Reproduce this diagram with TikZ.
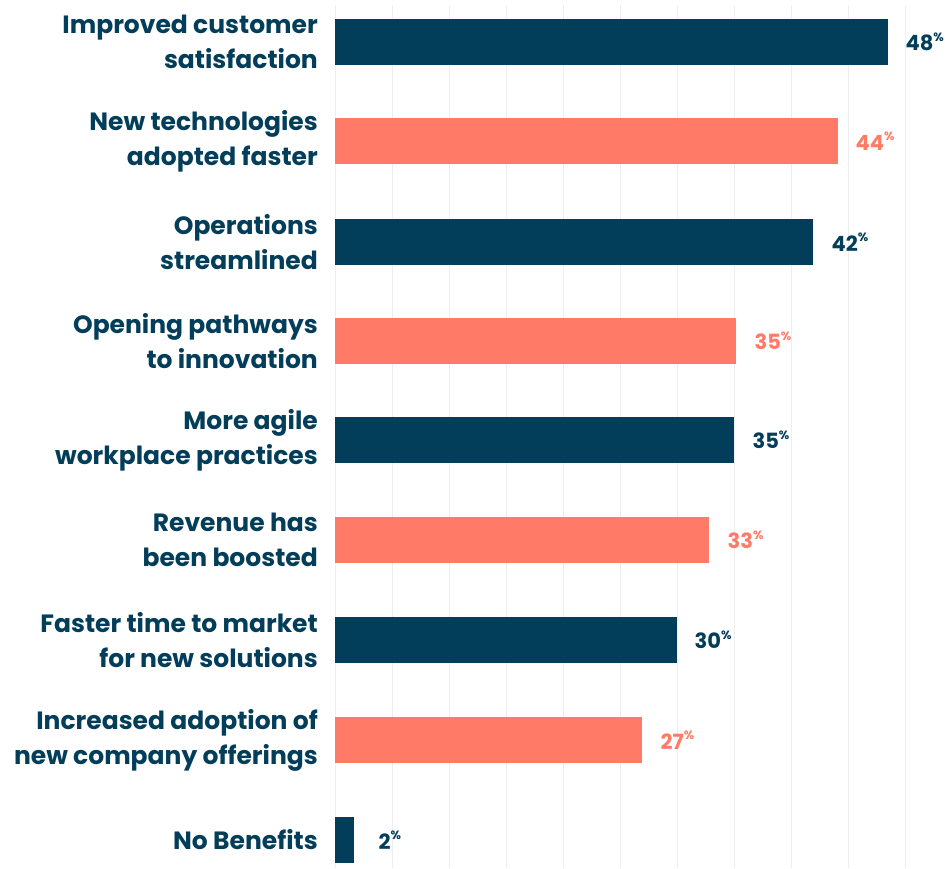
\documentclass[tikz,border=0pt]{standalone}
\usepackage{fontspec}
\setmainfont{Poppins}
\usepackage{xcolor}
\usepackage{tikz}
\usetikzlibrary{positioning}
\definecolor{navy}{HTML}{023D5A}
\definecolor{salmon}{HTML}{FF7B67}
\definecolor{gridgray}{HTML}{EEEEEE}
\tikzstyle{bar} = [rectangle, draw=none, inner sep=0, minimum height=46pt, anchor=west]
\tikzstyle{lab} = [draw=none, inner sep=0, align=right, text=navy, font=\fontsize{25}{35}\selectfont\bfseries]
\tikzstyle{pct} = [draw=none, inner sep=0, font=\fontsize{21}{24}\selectfont\bfseries]
\newcommand{\pcval}[1]{#1\raisebox{0.45em}{\fontsize{12}{12}\selectfont\%}}

\begin{document}
\begin{tikzpicture}[x=1pt, y=-1pt]
\useasboundingbox (0,0) rectangle (945,868);
% grid
\foreach \i in {0,...,10}
  \draw [gridgray, line width=1pt] (335+57*\i, 5) -- (335+57*\i, 868);
% bars
\node [bar, fill=navy, minimum width=553pt] (b1) at (335, 42) {};
\node [bar, fill=salmon, minimum width=503pt] (b2) at (335, 141) {};
\node [bar, fill=navy, minimum width=478pt] (b3) at (335, 242) {};
\node [bar, fill=salmon, minimum width=401pt] (b4) at (335, 341) {};
\node [bar, fill=navy, minimum width=399pt] (b5) at (335, 440) {};
\node [bar, fill=salmon, minimum width=374pt] (b6) at (335, 540) {};
\node [bar, fill=navy, minimum width=342pt] (b7) at (335, 640) {};
\node [bar, fill=salmon, minimum width=307pt] (b8) at (335, 740) {};
\node [bar, fill=navy, minimum width=19pt] (b9) at (335, 840) {};
% labels
\node [lab, left=17pt of b1] (l1) {Improved customer\\satisfaction};
\node [lab, left=17pt of b2] (l2) {New technologies\\adopted faster};
\node [lab, left=17pt of b3] (l3) {Operations\\streamlined};
\node [lab, left=17pt of b4] (l4) {Opening pathways\\to innovation};
\node [lab, left=17pt of b5] (l5) {More agile\\workplace practices};
\node [lab, left=17pt of b6] (l6) {Revenue has\\been boosted};
\node [lab, left=17pt of b7] (l7) {Faster time to market\\for new solutions};
\node [lab, left=17pt of b8] (l8) {Increased adoption of\\new company offerings};
\node [lab, left=17pt of b9] (l9) {No Benefits};
% values
\node [pct, text=navy, right=17pt of b1] (p1) {\pcval{48}};
\node [pct, text=salmon, right=17pt of b2] (p2) {\pcval{44}};
\node [pct, text=navy, right=18pt of b3] (p3) {\pcval{42}};
\node [pct, text=salmon, right=18pt of b4] (p4) {\pcval{35}};
\node [pct, text=navy, right=18pt of b5] (p5) {\pcval{35}};
\node [pct, text=salmon, right=18pt of b6] (p6) {\pcval{33}};
\node [pct, text=navy, right=17pt of b7] (p7) {\pcval{30}};
\node [pct, text=salmon, right=18pt of b8] (p8) {\pcval{27}};
\node [pct, text=navy, right=24pt of b9] (p9) {\pcval{2}};
\end{tikzpicture}
\end{document}
